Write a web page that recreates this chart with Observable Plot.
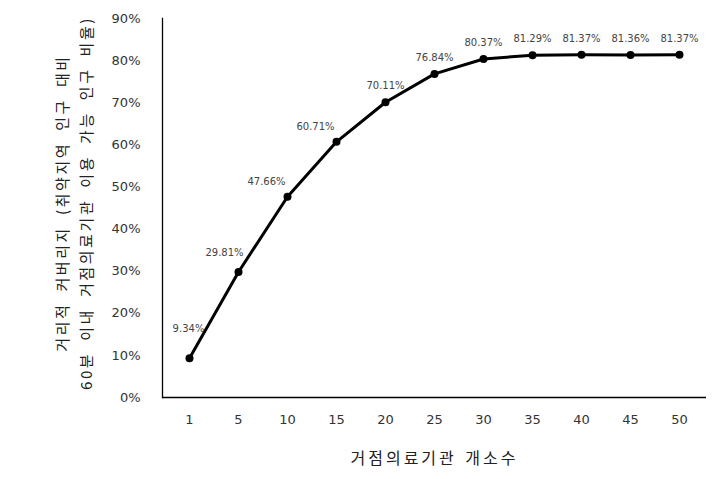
<!DOCTYPE html>
<html>
<head>
<meta charset="utf-8">
<script src="https://cdn.jsdelivr.net/npm/d3@7"></script>
<script src="https://cdn.jsdelivr.net/npm/@observablehq/plot@0.6"></script>
<style>
  html, body { margin: 0; padding: 0; background: #fff; }
</style>
</head>
<body>
<div id="chart"></div>
<script>
const categories = ["1", "5", "10", "15", "20", "25", "30", "35", "40", "45", "50"];
const values = [9.34, 29.81, 47.66, 60.71, 70.11, 76.84, 80.37, 81.29, 81.37, 81.36, 81.37];
const yTicks = [0, 10, 20, 30, 40, 50, 60, 70, 80, 90];
const xLabel = "거점의료기관 개소수";
const yLabelLines = ["거리적 커버리지 (취약지역 인구 대비", "60분 이내 거점의료기관 이용 가능 인구 비율)"];

const data = categories.map((c, i) => ({cat: c, v: values[i], label: values[i].toFixed(2) + "%"}));

const labelStyle = {x: "cat", y: "v", text: "label", fontSize: 10, fontFamily: "DejaVu Sans", fill: "#444"};
const korFont = "'Noto Sans CJK KR', sans-serif";

const chart = Plot.plot({
  width: 719,
  height: 479,
  marginLeft: 162,
  marginRight: 13,
  marginTop: 18,
  marginBottom: 82,
  style: {background: "#fff", fontFamily: "DejaVu Sans"},
  x: {type: "point", domain: categories, padding: 0.5},
  y: {domain: [0, 90]},
  marks: [
    Plot.axisY({ticks: yTicks, tickFormat: d => d + "%", tickSize: 0, tickPadding: 22, fontSize: 13, fill: "#333", label: null}),
    Plot.axisX({tickSize: 0, tickPadding: 17, fontSize: 13, fill: "#333", label: null}),
    Plot.ruleY([0], {stroke: "#000", strokeWidth: 1.3}),
    Plot.frame({anchor: "left", stroke: "#000", strokeWidth: 1.3}),
    Plot.line(data, {x: "cat", y: "v", stroke: "#000", strokeWidth: 3}),
    Plot.dot(data, {x: "cat", y: "v", r: 4, fill: "#000", stroke: "none"}),
    Plot.text(data, {...labelStyle, filter: d => d.cat === "1", dx: -1, dy: -29}),
    Plot.text(data, {...labelStyle, filter: d => d.cat === "5", dx: -14, dy: -19}),
    Plot.text(data, {...labelStyle, filter: d => d.cat === "10" || d.cat === "15", dx: -21, dy: -15}),
    Plot.text(data, {...labelStyle, filter: d => +d.cat >= 20, dy: -16}),
    Plot.text([xLabel], {text: d => d, frameAnchor: "bottom", dy: 66, fontSize: 16, fontFamily: korFont, fill: "#222", className: "xlab"}),
    Plot.text([yLabelLines.join("\n")], {text: d => d, frameAnchor: "left", textAnchor: "middle", rotate: -90, dx: -90, dy: -5, fontSize: 15, lineHeight: 1.6, fontFamily: korFont, fill: "#222", className: "ylab"})
  ]
});
chart.querySelectorAll(".xlab text").forEach(t => { t.style.letterSpacing = "3px"; t.style.wordSpacing = "2px"; });
chart.querySelectorAll(".ylab text").forEach(t => { t.style.letterSpacing = "2.6px"; t.style.wordSpacing = "5px"; });
document.getElementById("chart").appendChild(chart);
</script>
</body>
</html>
